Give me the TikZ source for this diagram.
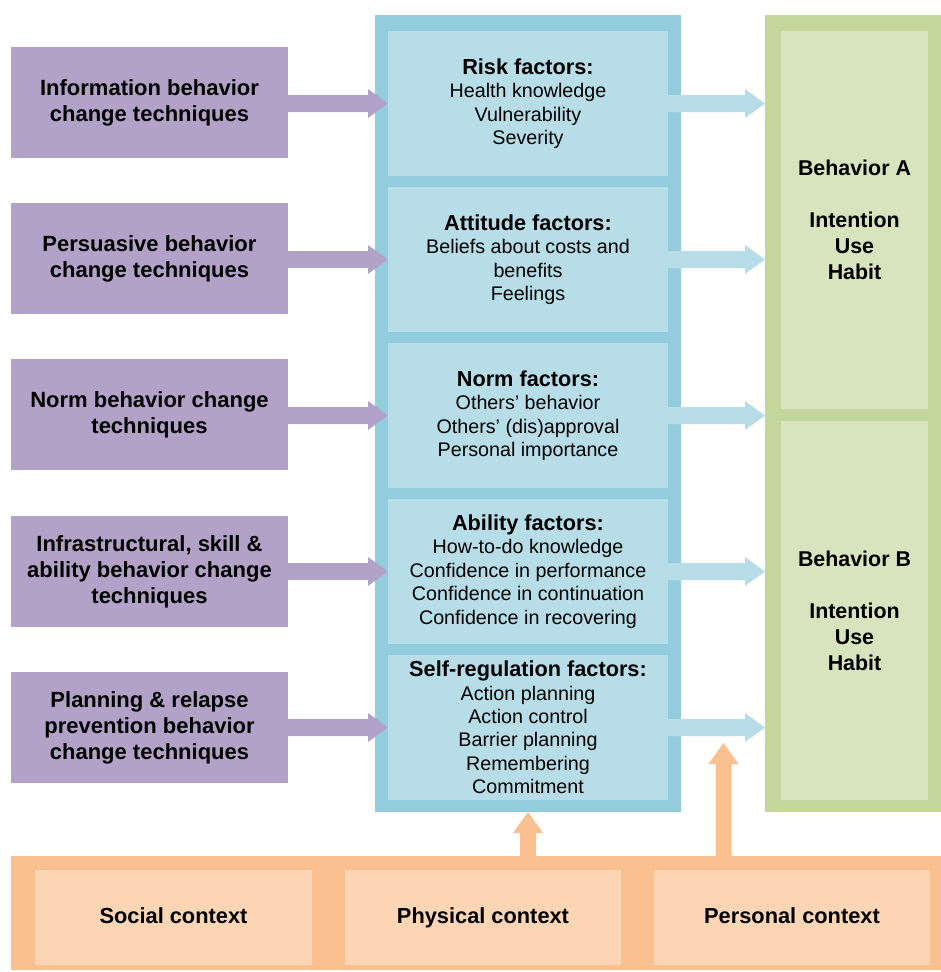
\documentclass[tikz,border=0pt]{standalone}
\usepackage{fontspec}
\setmainfont{Liberation Sans}
\usetikzlibrary{calc}
\definecolor{purp}{HTML}{B3A2C7}
\definecolor{blueout}{HTML}{93CDDD}
\definecolor{bluein}{HTML}{B7DEE8}
\definecolor{greenout}{HTML}{C3D69B}
\definecolor{greenin}{HTML}{D7E4BD}
\definecolor{orout}{HTML}{FAC090}
\definecolor{orin}{HTML}{FCD5B5}
\newcommand\titlefont{\bfseries\fontsize{21.7}{25}\selectfont}
\newcommand\harrow[3]{\fill[#1] let \p1=(#2), \p2=(#3) in (\x1,{\y2+8.5pt}) -- ({\x2-20pt},{\y2+8.5pt}) -- ({\x2-20pt},{\y2+14.5pt}) -- (\x2,\y2) -- ({\x2-20pt},{\y2-14.5pt}) -- ({\x2-20pt},{\y2-8.5pt}) -- (\x1,{\y2-8.5pt}) -- cycle;}
\newcommand\varrow[3]{\fill[#1] let \p1=(#2), \p2=(#3) in ({\x2-8pt},\y1) -- ({\x2-8pt},{\y2-21pt}) -- ({\x2-15pt},{\y2-21pt}) -- (\x2,\y2) -- ({\x2+15pt},{\y2-21pt}) -- ({\x2+8pt},{\y2-21pt}) -- ({\x2+8pt},\y1) -- cycle;}
\tikzset{
  box/.style={inner sep=0pt, outer sep=0pt, anchor=north west, align=center},
  techbox/.style={box, fill=purp, minimum width=277pt, minimum height=111pt, font=\bfseries\fontsize{22}{26}\selectfont},
  factorbox/.style={box, fill=bluein, minimum width=280pt, minimum height=145pt, font=\fontsize{19.7}{23.4}\selectfont},
  behbox/.style={box, fill=greenin, minimum width=147pt, font=\bfseries\fontsize{21.4}{26}\selectfont},
  ctxbox/.style={box, fill=orin, minimum width=277pt, minimum height=95pt, text height=15.5pt, text depth=4.5pt, font=\bfseries\fontsize{21.8}{24}\selectfont},
}
\begin{document}
\begin{tikzpicture}[x=1pt,y=-1pt]
\useasboundingbox[fill=white] (0,0) rectangle (941,972);
% frames
\node[box, fill=blueout, minimum width=306pt, minimum height=797pt] (blue) at (375,15) {};
\node[box, fill=greenout, minimum width=176pt, minimum height=797pt] (green) at (765,15) {};
\node[box, fill=orout, minimum width=930pt, minimum height=114pt] (ctx) at (11,856) {};
% technique boxes
\node[techbox] (p1) at (11,47) {Information behavior\\change techniques};
\node[techbox] (p2) at (11,203) {Persuasive behavior\\change techniques};
\node[techbox] (p3) at (11,359) {Norm behavior change\\techniques};
\node[techbox] (p4) at (11,516) {Infrastructural, skill \&\\ability behavior change\\techniques};
\node[techbox] (p5) at (11,672) {Planning \& relapse\\prevention behavior\\change techniques};
% factor boxes
\node[factorbox] (b1) at (388,31) {{\titlefont Risk factors:}\\Health knowledge\\Vulnerability\\Severity};
\node[factorbox] (b2) at (388,187) {{\titlefont Attitude factors:}\\Beliefs about costs and\\benefits\\Feelings};
\node[factorbox] (b3) at (388,343) {{\titlefont Norm factors:}\\Others’ behavior\\Others’ (dis)approval\\Personal importance};
\node[factorbox] (b4) at (388,499) {{\titlefont Ability factors:}\\How-to-do knowledge\\Confidence in performance\\Confidence in continuation\\Confidence in recovering};
\node[factorbox] (b5) at (388,655) {{\titlefont Self-regulation factors:}\\Action planning\\Action control\\Barrier planning\\Remembering\\Commitment};
% behaviour boxes
\node[behbox, minimum height=378pt] (g1) at (781,31) {Behavior A\\[26pt]Intention\\Use\\Habit};
\node[behbox, minimum height=379pt] (g2) at (781,421) {Behavior B\\[26pt]Intention\\Use\\Habit};
% context boxes
\node[ctxbox] (c1) at (35,870) {Social context};
\node[ctxbox, minimum width=276pt] (c2) at (345,870) {Physical context};
\node[ctxbox, minimum width=276pt] (c3) at (654,870) {Personal context};
% arrows technique -> factor
\harrow{purp}{p1.east}{b1.west}
\harrow{purp}{p2.east}{b2.west}
\harrow{purp}{p3.east}{b3.west}
\harrow{purp}{p4.east}{b4.west}
\harrow{purp}{p5.east}{b5.west}
% arrows factor -> behavior
\harrow{bluein}{b1.east}{green.west |- b1.east}
\harrow{bluein}{b2.east}{green.west |- b2.east}
\harrow{bluein}{b3.east}{green.west |- b3.east}
\harrow{bluein}{b4.east}{green.west |- b4.east}
\harrow{bluein}{b5.east}{green.west |- b5.east}
% context arrows
\coordinate (t2) at (723.5,743);
\varrow{orout}{ctx.north -| blue.south}{blue.south}
\varrow{orout}{ctx.north -| t2}{t2}
\end{tikzpicture}
\end{document}
